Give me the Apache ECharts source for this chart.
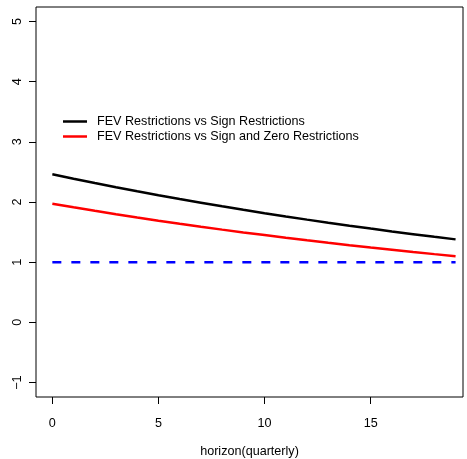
<!DOCTYPE html>
<html><head><meta charset="utf-8">
<script src="https://cdn.jsdelivr.net/npm/echarts@6/dist/echarts.min.js"></script>
<style>html,body{margin:0;padding:0;background:#fff}#c{width:467px;height:459px}</style>
</head><body><div id="c"></div>
<script>
const horizon = [0,1,2,3,4,5,6,7,8,9,10,11,12,13,14,15,16,17,18,19];
const fevVsSign = [2.46,2.386,2.315,2.245,2.178,2.113,2.049,1.988,1.928,1.870,1.814,1.760,1.707,1.656,1.606,1.558,1.511,1.466,1.422,1.379];
const fevVsSignZero = [1.97,1.911,1.853,1.797,1.742,1.690,1.639,1.589,1.541,1.495,1.450,1.406,1.363,1.322,1.282,1.243,1.206,1.169,1.134,1.100];
const reference = [1,1,1,1,1,1,1,1,1,1,1,1,1,1,1,1,1,1,1,1];
const xTicks = [0,5,10,15];
const yTicks = [-1,0,1,2,3,4,5];
const seriesNames = ['FEV Restrictions vs Sign Restrictions','FEV Restrictions vs Sign and Zero Restrictions'];

const font = 'Liberation Sans, Arial, Helvetica, sans-serif';
const fs = 12.6;
const chart = echarts.init(document.getElementById('c'));
const pairs = (ys) => horizon.map((x,i)=>[x, ys[i]]);
chart.setOption({
  animation:false,
  textStyle:{fontFamily:font},
  grid:{left:36,top:7,right:4,bottom:62,containLabel:false,outerBoundsMode:'none',show:true,borderColor:'#000',borderWidth:1,backgroundColor:'transparent'},
  legend:{
    data:seriesNames, orient:'vertical', left:63, top:114, padding:0,
    icon:'rect', itemWidth:24, itemHeight:2.5, itemGap:0,
    textStyle:{fontFamily:font,fontSize:fs,color:'#000',lineHeight:15,padding:[0,0,0,5]},
    selectedMode:false
  },
  xAxis:{
    type:'value', min:-0.77, max:19.35,
    name:'horizon(quarterly)', nameLocation:'middle', nameGap:48,
    nameTextStyle:{fontFamily:font,fontSize:fs,color:'#000'},
    axisLine:{show:false,onZero:false},
    splitLine:{show:false},
    axisTick:{show:true,inside:false,length:7,customValues:xTicks,lineStyle:{color:'#000'}},
    axisLabel:{customValues:xTicks,margin:20,fontFamily:font,fontSize:fs,color:'#000'}
  },
  yAxis:{
    type:'value', min:-1.24, max:5.24,
    axisLine:{show:false,onZero:false},
    splitLine:{show:false},
    axisTick:{show:true,inside:false,length:7,customValues:yTicks,lineStyle:{color:'#000'}},
    axisLabel:{customValues:yTicks,margin:12,rotate:90,fontFamily:font,fontSize:fs,color:'#000',
      formatter:(v)=> (v<0? '\u2212'+Math.abs(v) : String(v))}
  },
  series:[
    {name:seriesNames[0],type:'line',data:pairs(fevVsSign),showSymbol:false,symbol:'none',lineStyle:{color:'#000',width:2.5},itemStyle:{color:'#000'}},
    {name:seriesNames[1],type:'line',data:pairs(fevVsSignZero),showSymbol:false,symbol:'none',lineStyle:{color:'#ff0000',width:2.5},itemStyle:{color:'#ff0000'}},
    {name:'ref',type:'line',data:pairs(reference),showSymbol:false,symbol:'none',lineStyle:{color:'#0000ff',width:2.5,type:[9,10]},itemStyle:{color:'#0000ff'}}
  ]
});
</script></body></html>
